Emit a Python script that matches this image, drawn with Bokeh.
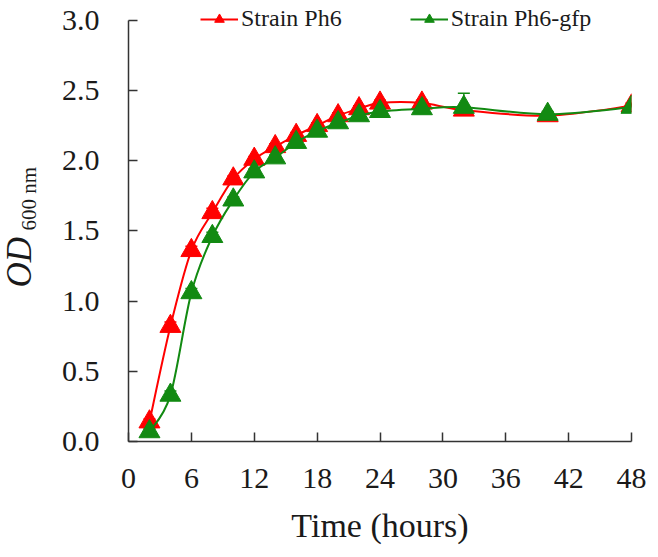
import math
from bokeh.plotting import figure
from bokeh.models import (ColumnDataSource, FixedTicker, NumeralTickFormatter, Legend,
                          LegendItem, Title, Whisker, Range1d)
from bokeh.embed import file_html
from bokeh.resources import INLINE

# ---- data ----
time_h = [2, 4, 6, 8, 10, 12, 14, 16, 18, 20, 22, 24, 28, 32, 40, 48]
od_ph6 = [0.14, 0.82, 1.36, 1.63, 1.87, 2.01, 2.10, 2.18, 2.25, 2.32, 2.37, 2.41, 2.41, 2.36, 2.32, 2.39]
od_gfp = [0.07, 0.33, 1.06, 1.46, 1.72, 1.92, 2.02, 2.13, 2.21, 2.27, 2.32, 2.35, 2.37, 2.38, 2.33, 2.38]
err_ph6 = [0.02, 0.03, 0.03, 0.03, 0.02, 0.02, 0.02, 0.02, 0.02, 0.02, 0.02, 0.02, 0.02, 0.03, 0.02, 0.02]
err_gfp = [0.02, 0.03, 0.03, 0.03, 0.02, 0.02, 0.02, 0.02, 0.02, 0.02, 0.02, 0.02, 0.02, 0.10, 0.02, 0.02]
x_ticks = [0, 6, 12, 18, 24, 30, 36, 42, 48]
y_ticks = [0.0, 0.5, 1.0, 1.5, 2.0, 2.5, 3.0]
series_names = ["Strain Ph6", "Strain Ph6-gfp"]

RED = "#ff0000"
GREEN = "#128a12"
FONT = "Liberation Serif"


def smooth_segments(xs, ys):
    """Control points for a smoothed (Catmull-Rom style) curve through the data."""
    n = len(xs)
    out = dict(x0=[], y0=[], x1=[], y1=[], cx0=[], cy0=[], cx1=[], cy1=[])
    for i in range(n - 1):
        p0 = (xs[i - 1], ys[i - 1]) if i > 0 else (xs[i], ys[i])
        p1 = (xs[i], ys[i])
        p2 = (xs[i + 1], ys[i + 1])
        p3 = (xs[i + 2], ys[i + 2]) if i + 2 < n else (xs[i + 1], ys[i + 1])
        out["x0"].append(p1[0]); out["y0"].append(p1[1])
        out["x1"].append(p2[0]); out["y1"].append(p2[1])
        out["cx0"].append(p1[0] + (p2[0] - p0[0]) / 6.0)
        out["cy0"].append(p1[1] + (p2[1] - p0[1]) / 6.0)
        out["cx1"].append(p2[0] - (p3[0] - p1[0]) / 6.0)
        out["cy1"].append(p2[1] - (p3[1] - p1[1]) / 6.0)
    return ColumnDataSource(out)


p = figure(width=650, height=549, output_backend="svg", toolbar_location=None,
           x_range=Range1d(0, 48), y_range=Range1d(0, 3.14),
           min_border_left=126, min_border_right=19, min_border_top=0, min_border_bottom=108)
p.outline_line_color = None
p.xgrid.visible = False
p.ygrid.visible = False
p.background_fill_color = "white"
p.border_fill_color = "white"

renderers = []
for ys, errs, col in [(od_ph6, err_ph6, RED), (od_gfp, err_gfp, GREEN)]:
    src = ColumnDataSource(dict(t=time_h, od=ys,
                                up=[y + e for y, e in zip(ys, errs)],
                                lo=list(ys)))
    w = Whisker(source=src, base="t", upper="up", lower="lo", level="underlay",
                line_color=col, line_width=1.5, lower_head=None)
    w.upper_head.size = 12
    w.upper_head.line_color = col
    w.upper_head.line_width = 1.5
    p.add_layout(w)
    rl = p.bezier(x0="x0", y0="y0", x1="x1", y1="y1", cx0="cx0", cy0="cy0",
                  cx1="cx1", cy1="cy1", source=smooth_segments(time_h, ys),
                  line_color=col, line_width=2)
    rs = p.scatter(x="t", y="od", source=src, marker="triangle", size=21,
                   fill_color=col, line_color=col, line_width=1)
    renderers.append((rl, rs))

# axes
for ax in (p.xaxis[0], p.yaxis[0]):
    ax.axis_line_color = "#333333"
    ax.axis_line_width = 1.5
    ax.major_tick_line_color = "#333333"
    ax.major_tick_line_width = 1.5
    ax.major_tick_in = 9
    ax.major_tick_out = 0
    ax.minor_tick_line_color = None
    ax.major_label_text_font = FONT
    ax.major_label_text_font_size = "30px"
    ax.major_label_text_color = "#1a1a1a"

p.yaxis.bounds = (0, 3.0)
p.xaxis.ticker = FixedTicker(ticks=x_ticks)
p.yaxis.ticker = FixedTicker(ticks=y_ticks)
p.yaxis.formatter = NumeralTickFormatter(format="0.0")
p.xaxis.major_label_standoff = 27
p.yaxis.major_label_standoff = 29
p.xaxis.axis_label = "Time (hours)"
p.xaxis.axis_label_text_font = FONT
p.xaxis.axis_label_text_font_style = "normal"
p.xaxis.axis_label_text_font_size = "34px"
p.xaxis.axis_label_text_color = "#1a1a1a"
p.xaxis.axis_label_standoff = 16

# y axis title: OD with subscript 600 nm, as side-panel titles
t_sub = Title(text="600 nm", align="left", offset=211, standoff=32, vertical_align="top",
              text_font=FONT, text_font_size="21px", text_font_style="normal",
              text_color="#1a1a1a")
t_od = Title(text="OD", align="left", offset=154, standoff=-77, vertical_align="bottom",
             text_font=FONT, text_font_size="35px", text_font_style="italic",
             text_color="#1a1a1a")
p.add_layout(t_sub, "left")
p.add_layout(t_od, "left")

legend = Legend(items=[LegendItem(label=series_names[0], renderers=list(renderers[0])),
                       LegendItem(label=series_names[1], renderers=list(renderers[1]))],
                orientation="horizontal", location=(72, 409))
legend.border_line_color = None
legend.background_fill_alpha = 0
legend.label_text_font = FONT
legend.label_text_font_size = "24px"
legend.label_text_color = "#1a1a1a"
legend.glyph_width = 38
legend.glyph_height = 24
legend.label_standoff = 3
legend.spacing = 68
legend.padding = 0
legend.margin = 0
p.add_layout(legend)

open("out.html", "w").write(file_html(p, INLINE))
